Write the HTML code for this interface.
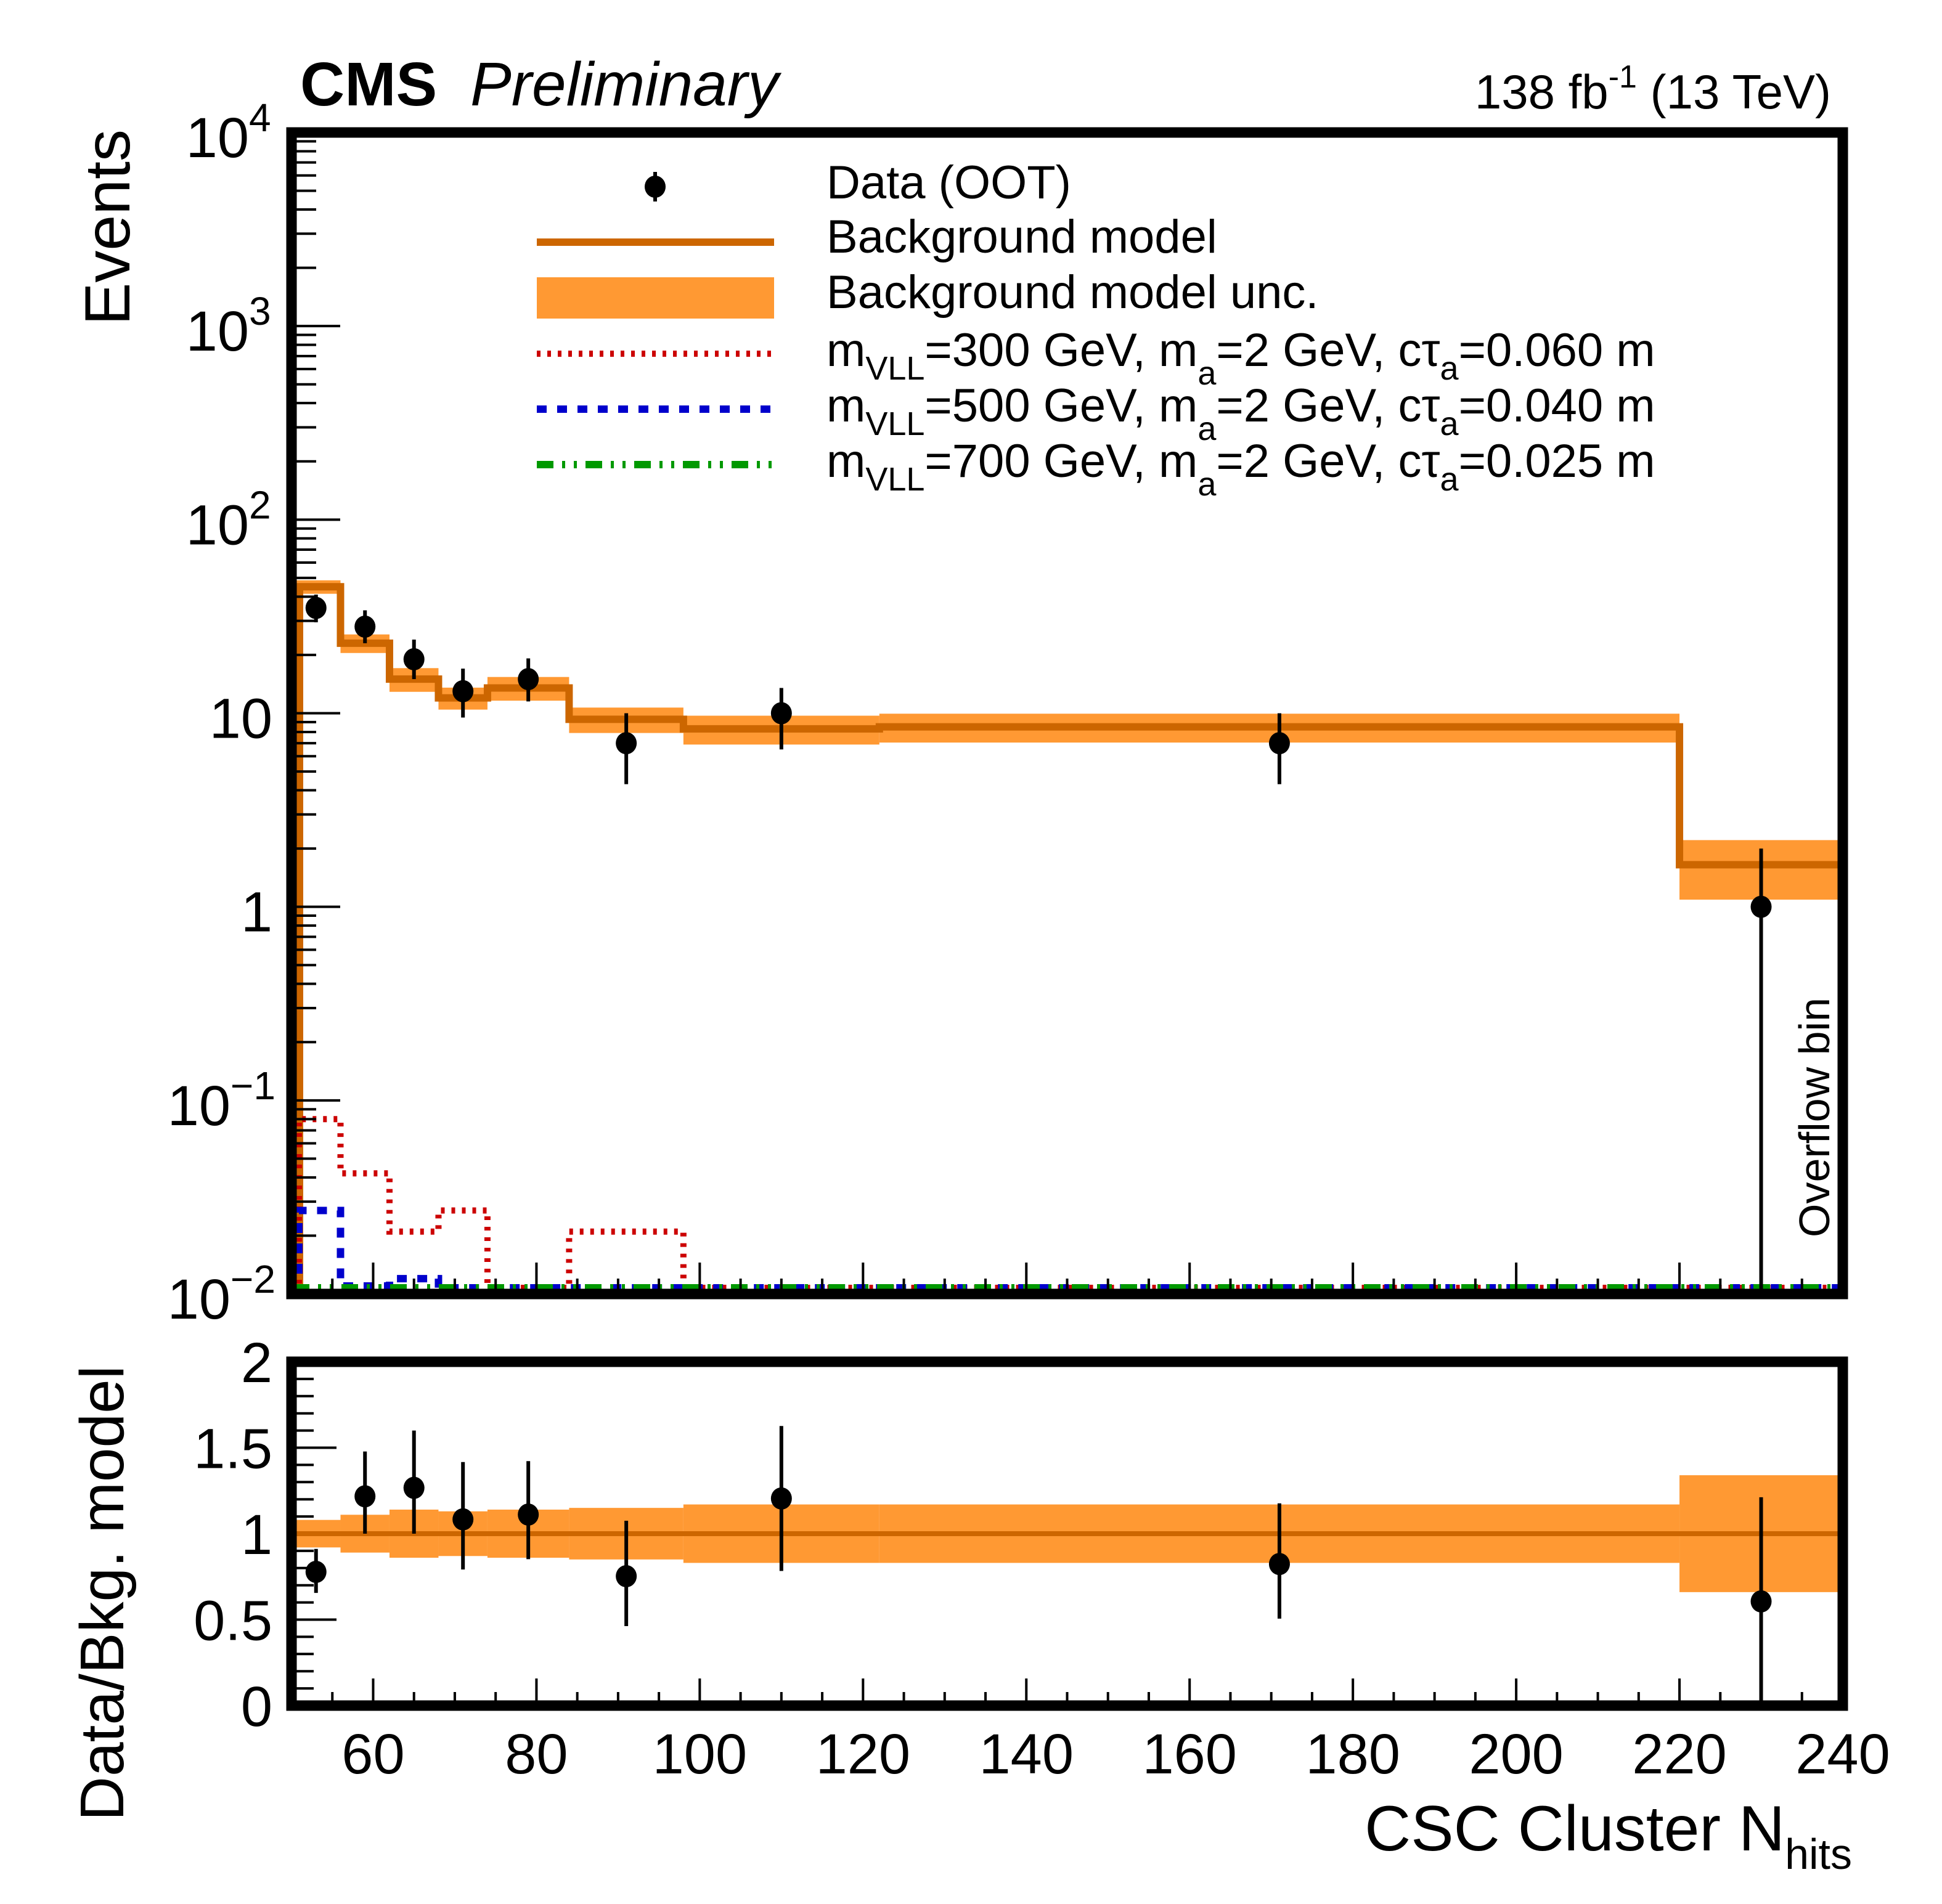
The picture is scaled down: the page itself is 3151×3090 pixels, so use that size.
<!DOCTYPE html>
<html><head><meta charset="utf-8">
<style>
html,body{margin:0;padding:0;background:#fff;overflow:hidden;width:3151px;height:3090px;}
svg{display:block;font-family:"Liberation Sans",Arial,sans-serif;}
</style></head>
<body>
<svg id="chart" width="3151" height="3090" viewBox="0 0 3151 3090" xmlns="http://www.w3.org/2000/svg">
<defs>
<clipPath id="clipMain"><rect x="474" y="215" width="2518" height="1885"/></clipPath>
<clipPath id="clipRatio"><rect x="474" y="2210" width="2518" height="558"/></clipPath>
</defs>
<g id="mainG"></g>
<g id="ratioG"></g>
<g id="textG">
<text x="487" y="171" font-size="100" font-weight="bold">CMS</text>
<text x="763" y="171" font-size="100" font-style="italic">Preliminary</text>
<text x="2971" y="176" font-size="78" text-anchor="end">138 fb<tspan font-size="52" dy="-34">-1</tspan><tspan dy="34"> (13 TeV)</tspan></text>
<text transform="translate(210,210) rotate(-90)" font-size="104" text-anchor="end">Events</text>
<text transform="translate(200,2216) rotate(-90)" font-size="100" text-anchor="end">Data/Bkg. model</text>
<text x="3005" y="3003" font-size="104" text-anchor="end">CSC Cluster N<tspan font-size="70" dy="30">hits</tspan></text>
<text transform="translate(2968,2008) rotate(-90)" font-size="70">Overflow bin</text>
</g>
<g id="legendG"></g>
</svg>
<script>
const edges = [50,56,62,68,74,84,98,122,220,240];
const bkg = [45,23,15,12,13.5,9.3,8.3,8.5,1.65];
const bkgRelUnc = [0.08,0.11,0.14,0.13,0.14,0.15,0.17,0.17,0.34];
const dataX = [53,59,65,71,79,91,110,171,230];
const dataY = [35,28,19,13,15,7,10,7,1];
const dataErrLo = [5.5,5,4,3.5,3.5,2.7,3.5,2.7,1];
const dataErrHi = [6,6,5,4,4.2,3,3.5,3,1];
const sig300 = [0.08,0.042,0.021,0.027,0,0.021,0,0,0];
const sig500 = [0.027,0.011,0.012,0,0,0,0,0,0];
const sig700 = [0,0,0,0,0,0,0,0,0];
const xTicks = [60,80,100,120,140,160,180,200,220,240];
const ratioTicks = [0,0.5,1,1.5,2];
const ratioTickLabels = ["0","0.5","1","1.5","2"];

const NS = "http://www.w3.org/2000/svg";
const X0 = 473, X1 = 2990, XMIN = 50, XMAX = 240;
const xs = v => X0 + (v - XMIN) * (X1 - X0) / (XMAX - XMIN);
const YTOP = 215, YBOT = 2100, DEC = (YBOT - YTOP) / 6;
const ys = v => YBOT - (Math.log10(Math.max(v, 1e-6)) + 2) * DEC;
const RT = 2210, RB = 2768;
const yr = v => RB - v * (RB - RT) / 2;
const ZERO_Y = 2090;

function mk(tag, attrs, parent) {
  const e = document.createElementNS(NS, tag);
  for (const k in attrs) e.setAttribute(k, attrs[k]);
  parent.appendChild(e);
  return e;
}
const mainG = document.getElementById('mainG');
const ratioG = document.getElementById('ratioG');
const legendG = document.getElementById('legendG');

const mainClip = mk('g', {'clip-path': 'url(#clipMain)'}, mainG);


for (let i = 0; i < bkg.length; i++) {
  const r = mk('rect', {x: xs(edges[i]), y: ys(bkg[i] * (1 + bkgRelUnc[i])), width: xs(edges[i+1]) - xs(edges[i]),
    height: ys(bkg[i] * (1 - bkgRelUnc[i])) - ys(bkg[i] * (1 + bkgRelUnc[i])), fill: '#FF9933'}, mainClip);
  
  
}
function stepPath(vals, floorY, off) {
  const x0 = xs(edges[0]) + off;
  let d = 'M' + x0 + ',' + YBOT;
  for (let i = 0; i < vals.length; i++) {
    const y = vals[i] > 0 ? Math.min(ys(vals[i]), floorY) : floorY;
    const xa = i === 0 ? x0 : xs(edges[i]);
    d += ' L' + xa + ',' + y + ' L' + xs(edges[i+1]) + ',' + y;
  }
  return d;
}
const bl = mk('path', {d: stepPath(bkg, ZERO_Y, 13), fill: 'none', stroke: '#CC6600', 'stroke-width': 12}, mainClip);


const s3 = mk('path', {d: stepPath(sig300, ZERO_Y, 12), fill: 'none', stroke: '#CC0000', 'stroke-width': 10, 'stroke-dasharray': '6 11'}, mainClip);


const s5 = mk('path', {d: stepPath(sig500, ZERO_Y, 12), fill: 'none', stroke: '#0000CC', 'stroke-width': 12, 'stroke-dasharray': '16 17'}, mainClip);


const s7 = mk('path', {d: stepPath(sig700, ZERO_Y, 12), fill: 'none', stroke: '#009900', 'stroke-width': 12, 'stroke-dasharray': '27 14 5 14 5 14'}, mainClip);


for (let i = 0; i < dataX.length; i++) {
  const g = mk('g', {}, mainClip);
  
  
  mk('line', {x1: xs(dataX[i]), x2: xs(dataX[i]), y1: ys(dataY[i] + dataErrHi[i]), y2: ys(dataY[i] - dataErrLo[i]), stroke: '#000', 'stroke-width': 6}, g);
  mk('ellipse', {cx: xs(dataX[i]), cy: ys(dataY[i]), rx: 17, ry: 18, fill: '#000'}, g);
}
const tickG = mk('g', {stroke: '#000', 'stroke-width': 4}, mainG);


for (let p = -2; p <= 4; p++) {
  mk('line', {x1: X0, x2: X0 + 79, y1: ys(Math.pow(10, p)), y2: ys(Math.pow(10, p))}, tickG);
  if (p < 4) for (let m = 2; m <= 9; m++) {
    const y = ys(m * Math.pow(10, p));
    mk('line', {x1: X0, x2: X0 + 40, y1: y, y2: y}, tickG);
  }
}
for (let v = 55; v < 240; v += 5) {
  const major = v % 20 === 0;
  mk('line', {x1: xs(v), x2: xs(v), y1: YBOT, y2: YBOT - (major ? 51 : 25)}, tickG);
  mk('line', {x1: xs(v), x2: xs(v), y1: RB, y2: RB - (major ? 44 : 22)}, tickG);
}
const yLabels = [['10','-2'],['10','-1'],['1',''],['10',''],['10','2'],['10','3'],['10','4']];
for (let p = -2; p <= 4; p++) {
  const lab = yLabels[p + 2];
  const t = mk('text', {x: 442, y: ys(Math.pow(10, p)) + 40, 'font-size': 92, 'text-anchor': 'end'}, mainG);
  
  
  if (lab[1]) {
    t.setAttribute('x', 442 - (lab[1].length > 1 ? 68 : 38));
    t.textContent = lab[0];
    const sup = mk('text', {x: 442 - (lab[1].length > 1 ? 68 : 38), y: ys(Math.pow(10, p)) - 2, 'font-size': 64}, mainG);
    
    
    sup.textContent = lab[1].replace('-', '\u2212');
  } else t.textContent = lab[0];
}
const mf = mk('rect', {x: X0, y: YTOP, width: X1 - X0, height: YBOT - YTOP, fill: 'none', stroke: '#000', 'stroke-width': 17}, mainG);



const rClip = mk('g', {'clip-path': 'url(#clipRatio)'}, ratioG);


for (let i = 0; i < bkg.length; i++) {
  const r = mk('rect', {x: xs(edges[i]), y: yr(1 + bkgRelUnc[i]), width: xs(edges[i+1]) - xs(edges[i]),
    height: yr(1 - bkgRelUnc[i]) - yr(1 + bkgRelUnc[i]), fill: '#FF9933'}, rClip);
  
  
}
const rl = mk('line', {x1: X0, x2: X1, y1: yr(1), y2: yr(1), stroke: '#CC6600', 'stroke-width': 8}, rClip);


for (let i = 0; i < dataX.length; i++) {
  const bi = edges.findIndex((e, k) => dataX[i] >= e && dataX[i] < edges[k+1]);
  const b = bkg[bi];
  const g = mk('g', {}, rClip);
  
  
  mk('line', {x1: xs(dataX[i]), x2: xs(dataX[i]), y1: yr((dataY[i] + dataErrHi[i]) / b), y2: yr((dataY[i] - dataErrLo[i]) / b), stroke: '#000', 'stroke-width': 6}, g);
  mk('ellipse', {cx: xs(dataX[i]), cy: yr(dataY[i] / b), rx: 17, ry: 18, fill: '#000'}, g);
}
for (let v = 0; v <= 2.0001; v += 0.1) {
  const major = Math.abs(v * 2 - Math.round(v * 2)) < 1e-6;
  mk('line', {x1: X0, x2: X0 + (major ? 73 : 36), y1: yr(v), y2: yr(v)}, tickG);
}
for (let i = 0; i < ratioTicks.length; i++) {
  const t = mk('text', {x: 442, y: yr(ratioTicks[i]) + 33, 'font-size': 92, 'text-anchor': 'end'}, ratioG);
  
  
  t.textContent = ratioTickLabels[i];
}
for (let i = 0; i < xTicks.length; i++) {
  const t = mk('text', {x: xs(xTicks[i]), y: 2878, 'font-size': 92, 'text-anchor': 'middle'}, ratioG);
  
  
  t.textContent = xTicks[i];
}
const rf = mk('rect', {x: X0, y: RT, width: X1 - X0, height: RB - RT, fill: 'none', stroke: '#000', 'stroke-width': 17}, ratioG);



const LX0 = 871, LX1 = 1256, TX = 1341;
const e1 = mk('g', {}, legendG);


mk('line', {x1: 1063, x2: 1063, y1: 279, y2: 327, stroke: '#000', 'stroke-width': 6}, e1);
mk('ellipse', {cx: 1063, cy: 303, rx: 17, ry: 18, fill: '#000'}, e1);
const e2 = mk('g', {}, legendG);


mk('line', {x1: LX0, x2: LX1, y1: 393, y2: 393, stroke: '#CC6600', 'stroke-width': 12}, e2);
const e3 = mk('g', {}, legendG);


mk('rect', {x: LX0, y: 450, width: LX1 - LX0, height: 67, fill: '#FF9933'}, e3);
const sigStyles = [['#CC0000', 10, '6 11', 574, '300', '0.060'], ['#0000CC', 12, '16 17', 664, '500', '0.040'], ['#009900', 12, '27 14 5 14 5 14', 754, '700', '0.025']];
for (const s of sigStyles) {
  const g = mk('g', {}, legendG);
  
  
  mk('line', {x1: LX0, x2: LX1, y1: s[3], y2: s[3], stroke: s[0], 'stroke-width': s[1], 'stroke-dasharray': s[2]}, g);
}
const legTexts = [[322, 'Data (OOT)'], [410, 'Background model'], [500, 'Background model unc.']];
for (const lt of legTexts) {
  const t = mk('text', {x: TX, y: lt[0], 'font-size': 76}, legendG);
  
  
  t.textContent = lt[1];
}
for (const s of sigStyles) {
  const t = mk('text', {x: TX, y: s[3] + 20, 'font-size': 76}, legendG);
  
  
  t.innerHTML = 'm<tspan font-size="54" dy="22">VLL</tspan><tspan dy="-22">=' + s[4] + ' GeV, m</tspan><tspan font-size="54" dy="30">a</tspan><tspan dy="-30">=2 GeV, c\u03C4</tspan><tspan font-size="54" dy="22">a</tspan><tspan dy="-22">=' + s[5] + ' m</tspan>';
}
</script>
</body></html>
